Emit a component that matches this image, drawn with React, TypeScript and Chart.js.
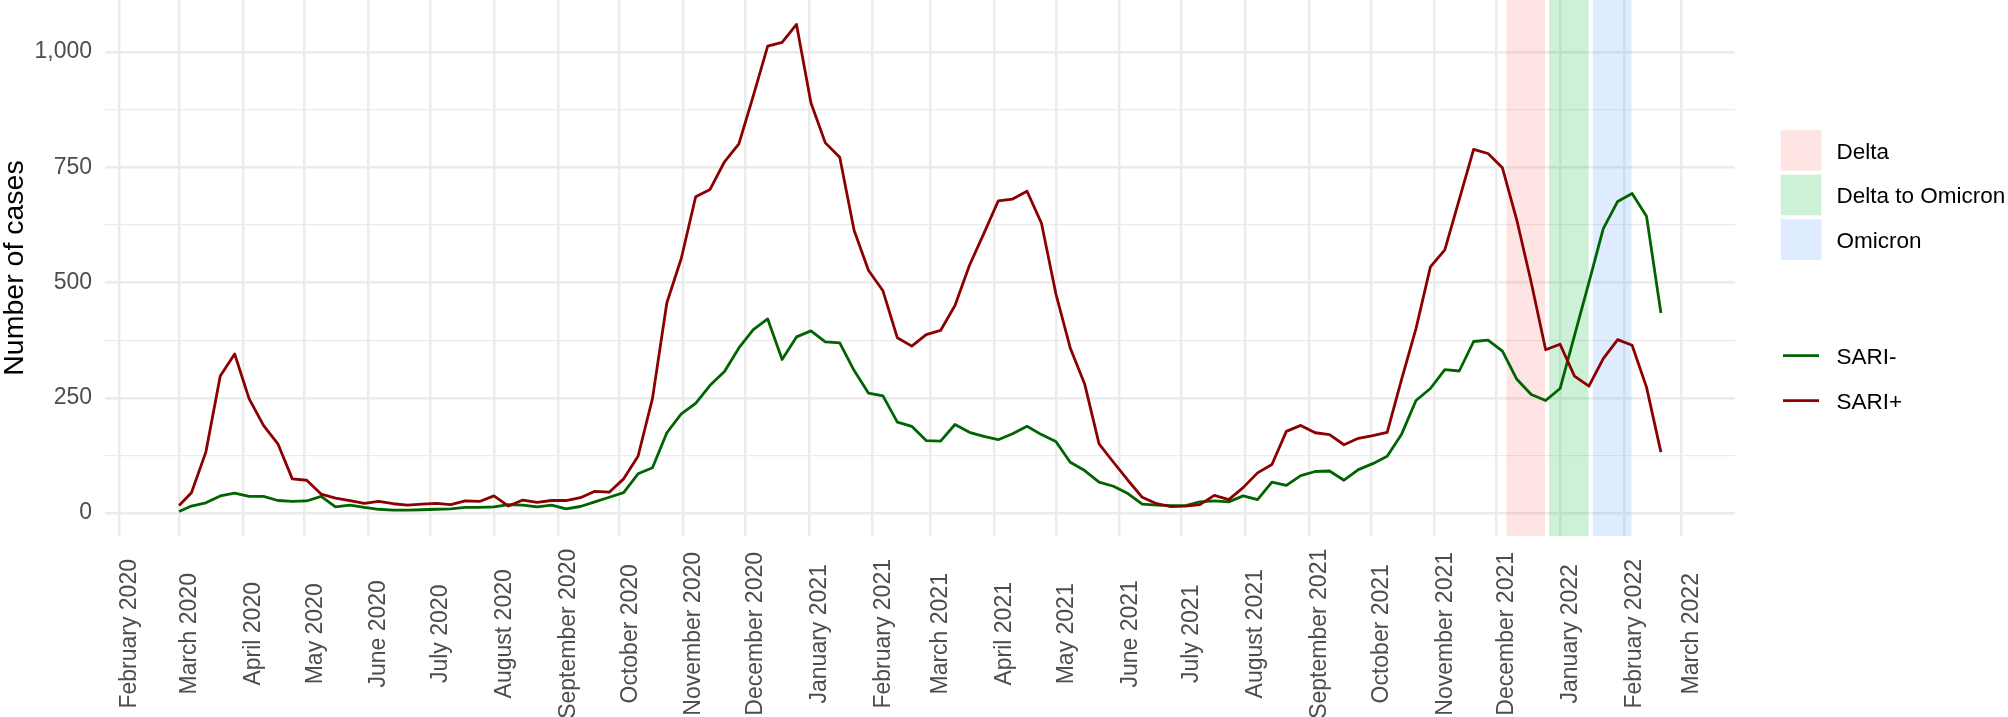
import React, { useEffect, useRef } from "react";
import { Chart, registerables } from "chart.js";

Chart.register(...registerables);

// ---------- data ----------
const weekDates = [
  "2020-03-01",
  "2020-03-07", "2020-03-14", "2020-03-21", "2020-03-28",
  "2020-04-04", "2020-04-11", "2020-04-18", "2020-04-25",
  "2020-05-02", "2020-05-09", "2020-05-16", "2020-05-23", "2020-05-30",
  "2020-06-06", "2020-06-13", "2020-06-20", "2020-06-27",
  "2020-07-04", "2020-07-11", "2020-07-18", "2020-07-25",
  "2020-08-01", "2020-08-08", "2020-08-15", "2020-08-22", "2020-08-29",
  "2020-09-05", "2020-09-12", "2020-09-19", "2020-09-26",
  "2020-10-03", "2020-10-10", "2020-10-17", "2020-10-24", "2020-10-31",
  "2020-11-07", "2020-11-14", "2020-11-21", "2020-11-28",
  "2020-12-05", "2020-12-12", "2020-12-19", "2020-12-26",
  "2021-01-02", "2021-01-09", "2021-01-16", "2021-01-23", "2021-01-30",
  "2021-02-06", "2021-02-13", "2021-02-20", "2021-02-27",
  "2021-03-06", "2021-03-13", "2021-03-20", "2021-03-27",
  "2021-04-03", "2021-04-10", "2021-04-17", "2021-04-24",
  "2021-05-01", "2021-05-08", "2021-05-15", "2021-05-22", "2021-05-29",
  "2021-06-05", "2021-06-12", "2021-06-19", "2021-06-26",
  "2021-07-03", "2021-07-10", "2021-07-17", "2021-07-24", "2021-07-31",
  "2021-08-07", "2021-08-14", "2021-08-21", "2021-08-28",
  "2021-09-04", "2021-09-11", "2021-09-18", "2021-09-25",
  "2021-10-02", "2021-10-09", "2021-10-16", "2021-10-23", "2021-10-30",
  "2021-11-06", "2021-11-13", "2021-11-20", "2021-11-27",
  "2021-12-04", "2021-12-11", "2021-12-18", "2021-12-25",
  "2022-01-01", "2022-01-08", "2022-01-15", "2022-01-22", "2022-01-29",
  "2022-02-05", "2022-02-12", "2022-02-19",
];

const sariNegative = [
  3,
  15, 22, 37, 43, 36, 36, 27, 25, 26, 36,
  13, 17, 12, 8, 6, 6, 7, 8, 9, 12,
  12, 13, 18, 17, 13, 17, 9, 14, 24, 34,
  44, 85, 98, 174, 215, 238, 277, 307, 358, 398,
  421, 333, 382, 395, 371, 369, 309, 260, 254, 197,
  188, 157, 156, 192, 175, 166, 159, 172, 188, 170,
  155, 110, 92, 67, 58, 42, 19, 17, 16, 16,
  24, 26, 24, 37, 29, 67, 60, 81, 90, 91,
  71, 94, 107, 123, 171, 244, 270, 311, 308, 372,
  375, 351, 290, 257, 244, 270, 385, 500, 617, 676,
  693, 644, 434,
];

const sariPositive = [
  16,
  44, 132, 297, 345, 248, 190, 150, 74, 71, 41,
  32, 27, 21, 25, 20, 17, 19, 21, 18, 26,
  25, 37, 15, 28, 23, 27, 27, 33, 47, 45,
  74, 123, 248, 456, 552, 686, 702, 762, 801, 905,
  1013, 1021, 1060, 890, 803, 772, 613, 526, 482, 380,
  362, 387, 396, 450, 537, 606, 677, 681, 698, 629,
  476, 358, 280, 150, 110, 71, 34, 20, 14, 15,
  18, 38, 29, 55, 87, 105, 177, 190, 174, 170,
  148, 162, 168, 175, 290, 400, 534, 571, 680, 789,
  780, 749, 635, 500, 354, 366, 297, 275, 335, 376,
  364, 273, 132,
];

const monthTickDates = [
  "2020-02-01", "2020-03-01", "2020-04-01", "2020-05-01", "2020-06-01", "2020-07-01",
  "2020-08-01", "2020-09-01", "2020-10-01", "2020-11-01", "2020-12-01",
  "2021-01-01", "2021-02-01", "2021-03-01", "2021-04-01", "2021-05-01", "2021-06-01",
  "2021-07-01", "2021-08-01", "2021-09-01", "2021-10-01", "2021-11-01", "2021-12-01",
  "2022-01-01", "2022-02-01", "2022-03-01",
];
const monthTickLabels = [
  "February 2020", "March 2020", "April 2020", "May 2020", "June 2020", "July 2020",
  "August 2020", "September 2020", "October 2020", "November 2020", "December 2020",
  "January 2021", "February 2021", "March 2021", "April 2021", "May 2021", "June 2021",
  "July 2021", "August 2021", "September 2021", "October 2021", "November 2021", "December 2021",
  "January 2022", "February 2022", "March 2022",
];

const yMajorTicks = [0, 250, 500, 750, 1000];
const yMinorTicks = [125, 375, 625, 875];

const variantNames = ["Delta", "Delta to Omicron", "Omicron"];
const variantStarts = ["2021-12-06T00:00:00Z", "2021-12-26T16:00:00Z", "2022-01-16T22:00:00Z"];
const variantEnds = ["2021-12-24T15:00:00Z", "2022-01-14T19:00:00Z", "2022-02-04T17:00:00Z"];
const variantFills = ["rgba(248,118,109,0.2)", "rgba(0,186,56,0.2)", "rgba(97,156,255,0.2)"];

const seriesNames = ["SARI-", "SARI+"];
const seriesColors = ["#006400", "#8B0000"];

const yAxisTitle = "Number of cases";

// ---------- helpers ----------
const ORIGIN = Date.UTC(2020, 2, 1);
const toDay = (s: string) =>
  (Date.parse(s.length === 10 ? s + "T00:00:00Z" : s) - ORIGIN) / 86400000;
const FONT = '"Liberation Sans", Arial, Helvetica, sans-serif';
const withCommas = (v: number) => String(v).replace(/\B(?=(\d{3})+(?!\d))/g, ",");

const W = 2008;
const H = 717;

const overlayPlugin = {
  id: "overlayPlugin",
  beforeDatasetsDraw(chart: any) {
    const { ctx, chartArea } = chart;
    const x = chart.scales.x;
    ctx.save();
    variantStarts.forEach((s, i) => {
      const x0 = x.getPixelForValue(toDay(s));
      const x1 = x.getPixelForValue(toDay(variantEnds[i]));
      ctx.fillStyle = variantFills[i];
      ctx.fillRect(x0, chartArea.top, x1 - x0, chartArea.bottom - chartArea.top);
    });
    ctx.restore();
  },
  afterDraw(chart: any) {
    const { ctx, chartArea } = chart;
    const x = chart.scales.x;
    ctx.save();
    // x tick labels, rotated and centred in the axis band
    ctx.font = `23px ${FONT}`;
    ctx.fillStyle = "#4D4D4D";
    ctx.textAlign = "center";
    ctx.textBaseline = "alphabetic";
    const labelCenterY = chartArea.bottom + 97.8;
    monthTickDates.forEach((d, i) => {
      const px = x.getPixelForValue(toDay(d));
      ctx.save();
      ctx.translate(px + 17, labelCenterY);
      ctx.rotate(-Math.PI / 2);
      ctx.fillText(monthTickLabels[i], 0, 0);
      ctx.restore();
    });

    // y axis title
    ctx.font = `28.5px ${FONT}`;
    ctx.fillStyle = "#000000";
    ctx.save();
    ctx.translate(22.5, (chartArea.top + chartArea.bottom) / 2);
    ctx.rotate(-Math.PI / 2);
    ctx.fillText(yAxisTitle, 0, 0);
    ctx.restore();

    // legend: fills
    const keyX = 1780.7;
    const keyW = 40.7;
    const textX = 1836.5;
    ctx.font = `22.5px ${FONT}`;
    ctx.textAlign = "left";
    variantNames.forEach((name, i) => {
      const top = 130 + i * 44.65;
      ctx.fillStyle = "#FFFFFF";
      ctx.fillRect(keyX, top, keyW, keyW);
      ctx.fillStyle = variantFills[i];
      ctx.fillRect(keyX, top, keyW, keyW);
      ctx.fillStyle = "#000000";
      ctx.fillText(name, textX, top + keyW / 2 + 8.2);
    });

    // legend: lines
    seriesNames.forEach((name, i) => {
      const cy = 355.7 + i * 45;
      ctx.strokeStyle = seriesColors[i];
      ctx.lineWidth = 2.8;
      ctx.lineCap = "butt";
      ctx.beginPath();
      ctx.moveTo(1783, cy);
      ctx.lineTo(1819, cy);
      ctx.stroke();
      ctx.fillStyle = "#000000";
      ctx.fillText(name, textX, cy + 8.2);
    });
    ctx.restore();
  },
};

export default function App() {
  const canvasRef = useRef<HTMLCanvasElement | null>(null);

  useEffect(() => {
    document.body.style.margin = "0";
    document.body.style.background = "#FFFFFF";
    const canvas = canvasRef.current;
    if (!canvas) return;

    const xs = weekDates.map(toDay);
    const chart = new Chart(canvas, {
      type: "line",
      data: {
        datasets: [
          {
            label: seriesNames[1],
            data: xs.map((x, i) => ({ x, y: sariPositive[i] })),
            borderColor: seriesColors[1],
            backgroundColor: seriesColors[1],
            borderWidth: 2.8,
            pointRadius: 0,
            tension: 0,
            borderJoinStyle: "round",
          },
          {
            label: seriesNames[0],
            data: xs.map((x, i) => ({ x, y: sariNegative[i] })),
            borderColor: seriesColors[0],
            backgroundColor: seriesColors[0],
            borderWidth: 2.8,
            pointRadius: 0,
            tension: 0,
            borderJoinStyle: "round",
          },
        ],
      },
      options: {
        animation: false,
        responsive: false,
        devicePixelRatio: 1,
        events: [],
        layout: { padding: { left: 0, top: 0, right: W - 1735, bottom: 0 } },
        plugins: {
          legend: { display: false },
          tooltip: { enabled: false },
          title: { display: false },
        },
        scales: {
          x: {
            type: "linear",
            min: -36,
            max: 756,
            border: { display: false },
            grid: { color: "#EBEBEB", lineWidth: 2.4, drawTicks: false },
            ticks: { display: false, autoSkip: false },
            afterBuildTicks: (axis: any) => {
              axis.ticks = monthTickDates.map((d) => ({ value: toDay(d) }));
            },
            afterFit: (axis: any) => {
              axis.height = H - 536;
              axis.paddingLeft = 0;
              axis.paddingRight = 0;
              axis.paddingTop = 0;
              axis.paddingBottom = 0;
            },
          },
          y: {
            type: "linear",
            min: -50,
            max: 1113,
            border: { display: false },
            grid: {
              color: "#EBEBEB",
              lineWidth: (c: any) =>
                c.tick && yMajorTicks.includes(c.tick.value) ? 2.4 : 1.2,
              drawTicks: false,
            },
            ticks: {
              autoSkip: false,
              padding: 13,
              color: "#4D4D4D",
              font: { family: FONT, size: 23 },
              callback: (v: any) => (yMajorTicks.includes(v) ? withCommas(v) : ""),
            },
            afterBuildTicks: (axis: any) => {
              axis.ticks = [...yMajorTicks, ...yMinorTicks]
                .sort((a, b) => a - b)
                .map((v) => ({ value: v }));
            },
            afterFit: (axis: any) => {
              axis.width = 105;
              axis.paddingLeft = 0;
              axis.paddingRight = 0;
              axis.paddingTop = 0;
              axis.paddingBottom = 0;
            },
          },
        },
      },
      plugins: [overlayPlugin],
    } as any);

    return () => {
      chart.destroy();
    };
  }, []);

  return (
    <div style={{ width: W, height: H, background: "#FFFFFF" }}>
      <canvas
        ref={canvasRef}
        width={W}
        height={H}
        style={{ display: "block", width: W, height: H }}
      />
    </div>
  );
}
